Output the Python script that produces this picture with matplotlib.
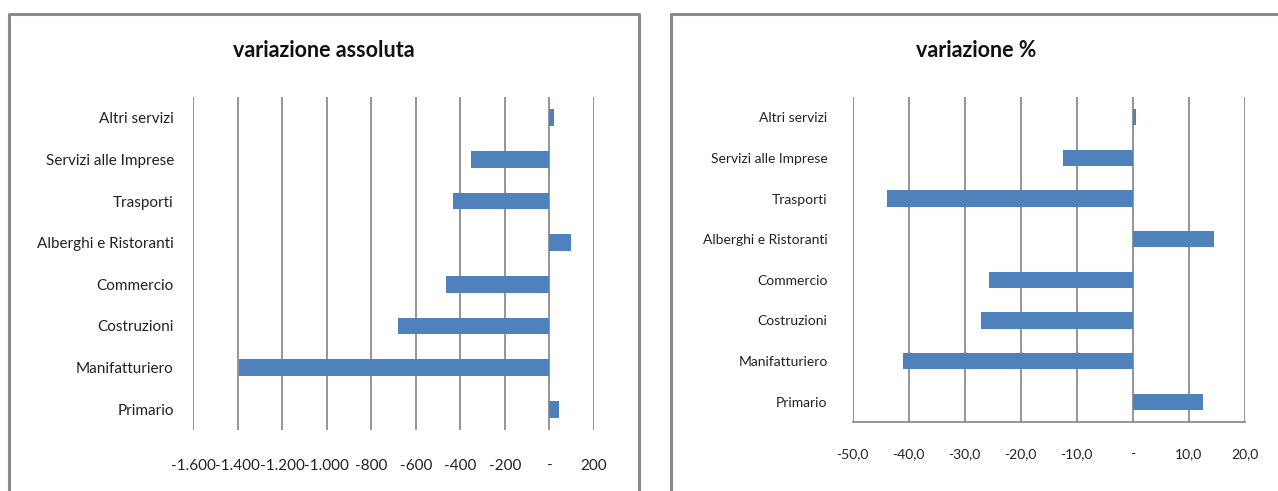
import matplotlib
matplotlib.use("Agg")
import matplotlib.pyplot as plt
from matplotlib.lines import Line2D
from matplotlib.ticker import FuncFormatter

# Sectors listed bottom to top
sectors = ["Primario", "Manifatturiero", "Costruzioni", "Commercio",
           "Alberghi e Ristoranti", "Trasporti", "Servizi alle Imprese",
           "Altri servizi"]
abs_change = [45, -1396, -680, -467, 96, -433, -352, 21]
pct_change = [12.5, -41.1, -27.1, -25.7, 14.6, -43.9, -12.4, 0.6]
abs_ticks = [-1600, -1400, -1200, -1000, -800, -600, -400, -200, 0, 200]
pct_ticks = [-50, -40, -30, -20, -10, 0, 10, 20]

BAR = "#4F81BD"
GRID = "#8C8C8C"
FONT = ["Lato", "DejaVu Sans"]
plt.rcParams["font.family"] = FONT

W, H = 1278, 491
fig = plt.figure(figsize=(W / 100, H / 100), dpi=100)


def px(x0, y0, x1, y1):
    return [x0 / W, 1 - y1 / H, (x1 - x0) / W, (y1 - y0) / H]


def fmt_abs(v, _):
    if abs(v) < 1e-9:
        return "-"
    return f"{int(v):,}".replace(",", ".")


def fmt_pct(v, _):
    if abs(v) < 1e-9:
        return "-"
    return f"{v:.1f}".replace(".", ",")


def panel(rect, values, ticks, fmt, xpad, ypad, bottom_spine, size):
    ax = fig.add_axes(rect)
    y = list(range(len(sectors)))
    ax.barh(y, values, height=0.4, color=BAR, zorder=3)
    ax.set_xlim(ticks[0], ticks[-1])
    ax.set_ylim(-0.5, len(sectors) - 0.5)
    ax.set_xticks(ticks)
    ax.xaxis.set_major_formatter(FuncFormatter(fmt))
    ax.set_yticks(y)
    ax.set_yticklabels(sectors)
    ax.grid(axis="x", color=GRID, linewidth=1.3, zorder=0)
    for s in ("top", "right", "left"):
        ax.spines[s].set_visible(False)
    if bottom_spine:
        ax.spines["bottom"].set_color(GRID)
        ax.spines["bottom"].set_linewidth(1.3)
    else:
        ax.spines["bottom"].set_visible(False)
    ax.tick_params(axis="both", length=0, labelsize=size, colors="#222222")
    ax.tick_params(axis="x", pad=xpad)
    ax.tick_params(axis="y", pad=ypad)
    return ax


panel(px(193.3, 97, 594, 430), abs_change, abs_ticks, fmt_abs, 21, 14, False, 11)
panel(px(852.7, 97, 1244.7, 422), pct_change, pct_ticks, fmt_pct, 19, 18, True, 10)

fig.text(324 / W, 1 - 50 / H, "variazione assoluta", ha="center", va="center",
         fontsize=15.5, fontweight="bold", color="#111111")
fig.text(976 / W, 1 - 50 / H, "variazione %", ha="center", va="center",
         fontsize=15.5, fontweight="bold", color="#111111")


# Chart frames (open at the bottom / right edge)
def fline(xs, ys):
    fig.add_artist(Line2D([x / W for x in xs], [1 - v / H for v in ys],
                          color="#8A8A8A", linewidth=2.2,
                          transform=fig.transFigure))


fline([9, 9, 639, 639], [H + 5, 14, 14, H + 5])
fline([671, 671, W + 5], [H + 5, 14, 14])

fig.savefig("out.png", dpi=100, facecolor="white")
